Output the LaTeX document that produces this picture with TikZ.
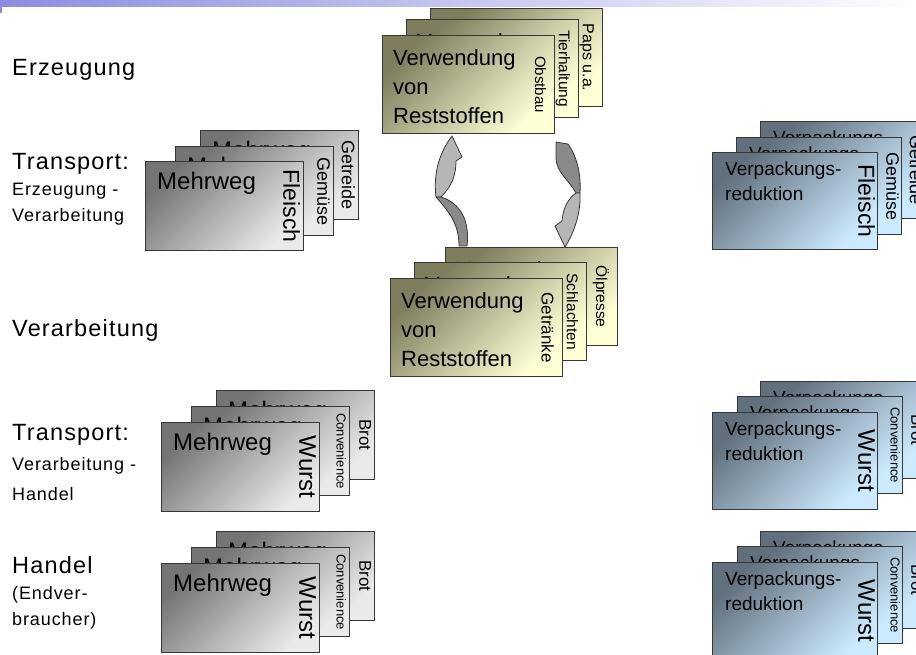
\documentclass[tikz,border=0pt]{standalone}
\usepackage{fontspec}
\setmainfont{Liberation Sans}
\newfontfamily\labelfont{Liberation Sans}[LetterSpace=5]
\usetikzlibrary{positioning}

\definecolor{bardark}{RGB}{140,140,222}
\definecolor{cardline}{RGB}{55,55,55}
\definecolor{graydark}{RGB}{116,116,116}
\definecolor{graylight}{RGB}{234,234,234}
\definecolor{bluedark}{RGB}{98,112,126}
\definecolor{bluelight}{RGB}{204,234,254}
\definecolor{yellowdark}{RGB}{126,126,94}
\definecolor{yellowlight}{RGB}{255,255,214}
\definecolor{arrowlight}{RGB}{182,182,182}
\definecolor{arrowdark}{RGB}{138,138,138}

% one card of a stack: name, kind, top left corner, text, side text, side size
\newcommand{\stackcard}[6]{%
  \node[#2card] (#1) at (#3) {};
  \node[#2text] (#1-main) at (#1.north west) {#4};
  \node[#2side, font=\fontsize{#6}{#6}\selectfont] (#1-side) at (#1.east) {#5};
}

\tikzset{
  card/.style={draw=cardline, line width=1.2pt, anchor=north west, inner sep=0},
  graycard/.style={card, top color=graydark, bottom color=graylight, shading angle=45,
    minimum width=158pt, minimum height=89pt},
  bluecard/.style={card, top color=bluedark, bottom color=bluelight, shading angle=45,
    minimum width=165pt, minimum height=97pt},
  yellowcard/.style={card, top color=yellowdark, bottom color=yellowlight, shading angle=45,
    minimum width=172pt, minimum height=98pt},
  graytext/.style={anchor=north west, inner sep=0, xshift=12pt, yshift=-11pt,
    font=\fontsize{24}{28}\selectfont},
  bluetext/.style={anchor=north west, inner sep=0, xshift=13pt, yshift=-10pt, align=left,
    font=\fontsize{19}{25}\selectfont},
  yellowtext/.style={anchor=north west, inner sep=0, xshift=11pt, yshift=-14pt, align=left,
    font=\fontsize{22}{29}\selectfont},
  side/.style={rotate=-90, anchor=north, inner sep=0},
  grayside/.style={xshift=-4pt, side},
  blueside/.style={xshift=-3pt, side},
  yellowside/.style={xshift=-9pt, side},
  biglabel/.style={anchor=base west, inner sep=0, font=\labelfont\fontsize{23.5}{23.5}\selectfont},
  smalllabel/.style={anchor=base west, inner sep=0, font=\labelfont\fontsize{18}{18}\selectfont},
  arrowline/.style={draw=cardline, line width=0.8pt, line join=round}
}

\begin{document}
\begin{tikzpicture}[x=1pt,y=-1pt]
\useasboundingbox (0,0) rectangle (916,655);
\clip (0,0) rectangle (916,655);
\fill[white] (0,0) rectangle (916,655);
\shade[left color=bardark, right color=white] (0,0) rectangle (916,7);
\fill[bardark] (0,7) rectangle (2,13);

% row labels
\node[biglabel] (erz) at (12,76) {Erzeugung};
\node[biglabel] (trA) at (12,170) {Transport:};
\node[smalllabel] (trAa) at (12,196) {Erzeugung -};
\node[smalllabel] (trAb) at (12,222) {Verarbeitung};
\node[biglabel] (ver) at (12,336) {Verarbeitung};
\node[biglabel] (trB) at (12,440) {Transport:};
\node[smalllabel] (trBa) at (12,470) {Verarbeitung -};
\node[smalllabel] (trBb) at (12,500) {Handel};
\node[biglabel] (han) at (12,573) {Handel};
\node[smalllabel] (hanA) at (12,599) {(Endver-};
\node[smalllabel] (hanB) at (12,625) {braucher)};

% Mehrweg stacks
\stackcard{mwA3}{gray}{200,130}{Mehrweg}{Getreide}{18}
\stackcard{mwA2}{gray}{175,146}{Mehrweg}{Gemüse}{18}
\stackcard{mwA1}{gray}{145,161}{Mehrweg}{Fleisch}{23}
\stackcard{mwB3}{gray}{216,390}{Mehrweg}{Brot}{17}
\stackcard{mwB2}{gray}{191,406}{Mehrweg}{Convenience}{13}
\stackcard{mwB1}{gray}{161,422}{Mehrweg}{Wurst}{24}
\stackcard{mwC3}{gray}{216,531}{Mehrweg}{Brot}{17}
\stackcard{mwC2}{gray}{191,547}{Mehrweg}{Convenience}{13}
\stackcard{mwC1}{gray}{161,563}{Mehrweg}{Wurst}{24}

% Verpackungsreduktion stacks
\stackcard{vrA3}{blue}{760,121}{Verpackungs-\\reduktion}{Getreide}{18}
\stackcard{vrA2}{blue}{736,137}{Verpackungs-\\reduktion}{Gemüse}{18}
\stackcard{vrA1}{blue}{712,152}{Verpackungs-\\reduktion}{Fleisch}{23}
\stackcard{vrB3}{blue}{760,381}{Verpackungs-\\reduktion}{Brot}{17}
\stackcard{vrB2}{blue}{737,396}{Verpackungs-\\reduktion}{Convenience}{13}
\stackcard{vrB1}{blue}{712,412}{Verpackungs-\\reduktion}{Wurst}{24}
\stackcard{vrC3}{blue}{760,531}{Verpackungs-\\reduktion}{Brot}{17}
\stackcard{vrC2}{blue}{737,546}{Verpackungs-\\reduktion}{Convenience}{13}
\stackcard{vrC1}{blue}{712,562}{Verpackungs-\\reduktion}{Wurst}{24}

% Reststoffe stacks
\stackcard{rsT3}{yellow}{430,8}{Verwendung\\von\\Reststoffen}{Paps u.a.}{16}
\stackcard{rsT2}{yellow}{406,19}{Verwendung\\von\\Reststoffen}{Tierhaltung}{15.5}
\stackcard{rsT1}{yellow}{382,35}{Verwendung\\von\\Reststoffen}{Obstbau}{15}
\stackcard{rsB3}{yellow}{445,247}{Verwendung\\von\\Reststoffen}{Ölpresse}{15.5}
\stackcard{rsB2}{yellow}{414,262}{Verwendung\\von\\Reststoffen}{Schlachten}{15.5}
\stackcard{rsB1}{yellow}{390,278}{Verwendung\\von\\Reststoffen}{Getränke}{17}

% curved arrows
\draw[arrowline, fill=arrowlight] (452,136) -- (462,157) -- (456,161) .. controls (456,175) and (452,186) .. (441,197) -- (436,197) .. controls (433,172) and (440,152) .. cycle;
\draw[arrowline, fill=arrowdark] (436,197) .. controls (447,210) and (459,222) .. (459,246) -- (467,246) .. controls (470,220) and (460,203) .. (441,197) -- cycle;
\draw[arrowline, fill=arrowdark] (556,142) -- (568,144) .. controls (578,158) and (581,176) .. (580,193) -- (576,193) .. controls (569,180) and (556,172) .. (556,158) -- cycle;
\draw[arrowline, fill=arrowlight] (576,193) -- (580,193) .. controls (581,213) and (574,233) .. (565,247) -- (555,226) -- (562,221) .. controls (563,207) and (569,198) .. cycle;
\end{tikzpicture}
\end{document}
